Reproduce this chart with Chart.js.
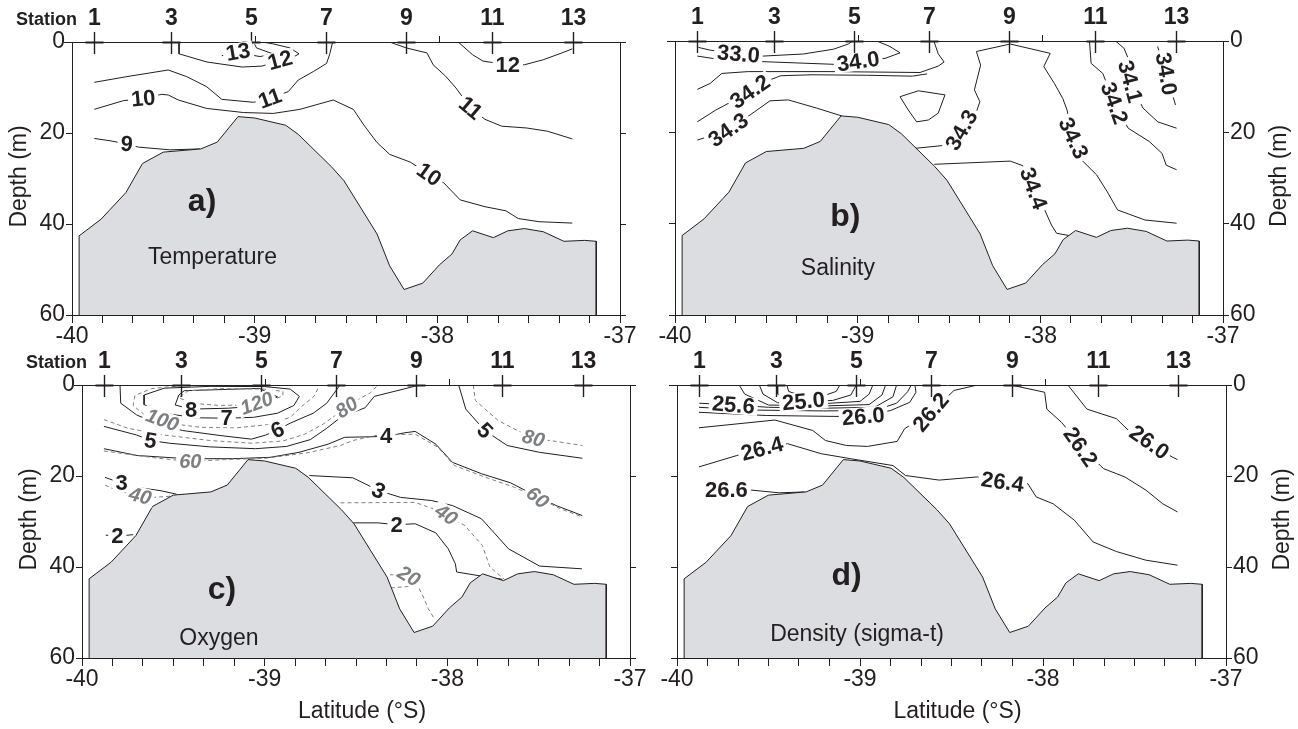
<!DOCTYPE html>
<html>
<head>
<meta charset="utf-8">
<script src="https://cdn.jsdelivr.net/npm/chart.js@4.4.1/dist/chart.umd.min.js"></script>
<style>
  body { margin: 0; background: #fff; width: 1298px; height: 729px; overflow: hidden; position: relative; }
  canvas { position: absolute; }
</style>
</head>
<body>
<canvas id="pa"></canvas>
<canvas id="pb"></canvas>
<canvas id="pc"></canvas>
<canvas id="pd"></canvas>
<script>
// ---- axes / stations ----
const latMajor = [-40, -39, -38, -37];
const depthTicks = [0, 20, 40, 60];
const stationNum = [1, 3, 5, 7, 9, 11, 13];
const stationLat = [-39.88, -39.46, -39.02, -38.61, -38.17, -37.70, -37.26];
const extraStationLat = [-39.0, -37.99];

// ---- bottom profile (latitude, depth m) ----
const bathyLat = [-39.961, -39.961, -39.841, -39.705, -39.614, -39.5, -39.295, -39.205, -39.091, -39.0, -38.83, -38.761, -38.58, -38.511, -38.33, -38.261, -38.182, -38.08, -37.989, -37.92, -37.875, -37.807, -37.693, -37.614, -37.523, -37.42, -37.307, -37.193, -37.13, -37.13];
const bathyDepth = [60, 42.6, 38.95, 33.1, 26.7, 24.2, 23.5, 22.0, 16.4, 16.7, 18.3, 20.3, 27.4, 30.5, 42.2, 49.2, 54.4, 53.0, 49.0, 46.6, 43.5, 41.5, 43.0, 41.5, 41.0, 41.7, 43.8, 43.6, 43.8, 60];

// ---- a) temperature contours [lat, depth] ----
const t13 = [[-39.18, 3.0], [-39.091, 2.4], [-38.97, 3.2], [-38.90, 2.6], [-38.99, 1.3], [-39.0, 0.5]];
const t12a = [[-39.414, 0], [-39.414, 2.6], [-39.261, 4.4], [-39.069, 5.5], [-38.96, 5.3], [-38.861, 4.0], [-38.779, 3.1], [-38.757, 2.6], [-38.807, 1.3], [-38.90, 0.4], [-38.96, 0]];
const t12b = [[-37.886, 0], [-37.807, 2.8], [-37.75, 4.2], [-37.614, 5.0], [-37.523, 5.0], [-37.42, 3.9], [-37.318, 2.4], [-37.261, 1.5]];
const t11a = [[-39.878, 8.86], [-39.701, 7.62], [-39.473, 6.15], [-39.372, 7.62], [-39.263, 9.82], [-39.18, 12.6], [-39.007, 13.25], [-38.916, 12.4], [-38.816, 10.9], [-38.761, 8.35], [-38.679, 6.5], [-38.606, 4.7], [-38.588, 2.5], [-38.573, 0]];
const t11b = [[-38.261, 0], [-38.17, 1.3], [-38.057, 2.4], [-38.023, 5.0], [-37.955, 7.5], [-37.898, 10.1], [-37.818, 14.5], [-37.739, 17.0], [-37.648, 18.5], [-37.511, 18.9], [-37.398, 19.6], [-37.261, 21.3]];
const t10 = [[-39.878, 14.8], [-39.719, 12.9], [-39.61, 12.4], [-39.509, 11.5], [-39.473, 11.65], [-39.418, 12.75], [-39.263, 14.6], [-39.062, 15.5], [-38.898, 15.7], [-38.752, 14.8], [-38.57, 12.75], [-38.46, 14.8], [-38.398, 18.5], [-38.33, 22.1], [-38.261, 24.7], [-38.148, 26.4], [-38.045, 29.1], [-37.966, 30.9], [-37.875, 34.7], [-37.739, 36.2], [-37.625, 37.1], [-37.557, 38.8], [-37.443, 39.5], [-37.261, 39.8]];
const t9 = [[-39.878, 21.2], [-39.792, 21.7], [-39.701, 22.4], [-39.637, 23.1], [-39.464, 23.7], [-39.299, 23.5]];
const tempLabels = [['13', -39.091, 2.2, -10], ['12', -38.861, 4.0, -15], ['12', -37.614, 5.0, 0], ['11', -38.916, 12.4, -20], ['11', -37.818, 14.5, 40], ['10', -39.61, 12.4, -5], ['10', -38.045, 29.1, 35], ['9', -39.701, 22.4, 5]];

// ---- b) salinity contours ----
const s330 = [[-39.872, 1.4], [-39.808, 2.0], [-39.653, 2.85], [-39.517, 3.3], [-39.298, 2.85], [-39.133, 1.8], [-39.051, 0.66], [-39.027, 0]];
const s340 = [[-39.878, 3.3], [-39.763, 4.0], [-39.535, 4.5], [-39.133, 5.1], [-38.997, 4.5], [-38.85, 3.8], [-38.768, 2.6], [-38.823, 1.2], [-38.896, 0]];
const s341 = [[-39.878, 10.6], [-39.808, 9.3], [-39.744, 7.1], [-39.599, 6.7], [-39.151, 6.7], [-38.659, 6.9], [-38.559, 5.5], [-38.527, 4.6], [-38.559, 2.8], [-38.583, 0]];
const s342 = [[-39.878, 17.7], [-39.78, 15.2], [-39.589, 11.1], [-39.50, 8.8], [-39.42, 7.6], [-39.25, 7.4], [-38.95, 7.5], [-38.70, 7.7], [-38.62, 7.2]];
const s343a = [[-39.878, 21.7], [-39.708, 19.5], [-39.589, 16.2], [-39.48, 13.1], [-39.38, 12.9], [-39.224, 14.7], [-39.088, 16.4]];
const sLoop = [[-38.768, 12.2], [-38.668, 10.9], [-38.522, 11.8], [-38.559, 15.8], [-38.613, 17.3], [-38.677, 17.7], [-38.723, 15.1], [-38.768, 12.2]];
const s343b = [[-38.685, 23.5], [-38.535, 22.9], [-38.431, 19.5], [-38.35, 15.5], [-38.331, 13.3], [-38.361, 10.7], [-38.327, 5.3], [-38.35, 2.3], [-38.165, 0.66], [-37.946, 2.7], [-37.981, 5.6], [-37.923, 9.3], [-37.877, 12.6], [-37.854, 15.1], [-37.819, 21.3], [-37.773, 26.1], [-37.692, 29.3], [-37.634, 33.0], [-37.577, 37.0], [-37.427, 39.2], [-37.254, 39.9]];
const s344 = [[-38.581, 27.0], [-38.165, 26.3], [-38.096, 27.3], [-38.038, 32.3], [-37.976, 37.0], [-37.939, 40.3], [-37.911, 42.1], [-37.842, 42.6]];
const s342b = [[-37.731, 0], [-37.722, 4.9], [-37.658, 7.1], [-37.595, 13.6], [-37.519, 19.1], [-37.404, 22.0], [-37.334, 24.6], [-37.311, 27.2], [-37.254, 28.2]];
const s341b = [[-37.588, 0], [-37.542, 1.6], [-37.519, 3.8], [-37.508, 8.9], [-37.438, 14.7], [-37.357, 17.7], [-37.254, 19.1]];
const s340b = [[-37.358, 1.2], [-37.311, 7.2], [-37.26, 14.0]];
const salLabels = [['33.0', -39.653, 2.85, 5], ['34.0', -38.997, 4.5, -8], ['34.2', -39.589, 11.1, -35], ['34.3', -39.708, 19.5, -35], ['34.3', -38.431, 19.5, -60], ['34.3', -37.819, 21.3, 65], ['34.4', -38.038, 32.3, 70], ['34.2', -37.595, 13.6, 70], ['34.1', -37.508, 8.9, 75], ['34.0', -37.311, 7.2, 80]];

// ---- c) oxygen: ml/L (solid) and % saturation (dashed) ----
const o8 = [[-39.403, 5.3], [-39.2, 5.1], [-39.03, 4.6], [-38.93, 2.6], [-39.03, 0.75], [-39.44, 1.25], [-39.47, 2.2], [-39.49, 4.4], [-39.403, 5.3]];
const o7 = [[-39.208, 7.3], [-39.06, 7.1], [-38.93, 6.2], [-38.84, 4.5], [-38.81, 2.5], [-38.86, 0.9], [-39.0, 0.35], [-39.3, 0.3], [-39.55, 0.7], [-39.66, 2.2], [-39.66, 4.3], [-39.55, 6.2], [-39.38, 7.2], [-39.208, 7.3]];
const o6 = [[-39.792, 0], [-39.788, 4.0], [-39.70, 6.6], [-39.60, 8.3], [-39.45, 10.0], [-39.244, 11.1], [-39.073, 11.9], [-38.994, 11.0], [-38.93, 9.9], [-38.861, 8.4], [-38.734, 6.2], [-38.66, 4.0], [-38.61, 1.25], [-38.588, 0]];
const o5a = [[-39.88, 9.1], [-39.70, 11.0], [-39.625, 12.2], [-39.52, 12.8], [-39.30, 13.6], [-39.05, 14.0], [-38.88, 13.5], [-38.75, 12.0], [-38.66, 9.5], [-38.58, 7.0], [-38.45, 5.0], [-38.40, 2.5], [-38.27, 1.2], [-38.18, 0.3], [-38.15, 0]];
const o5b = [[-37.938, 0], [-37.899, 5.3], [-37.795, 10.0], [-37.672, 13.3], [-37.495, 14.8], [-37.261, 16.1]];
const o4 = [[-39.88, 14.0], [-39.698, 15.5], [-39.425, 16.2], [-39.176, 16.2], [-38.971, 15.9], [-38.812, 14.8], [-38.653, 13.0], [-38.562, 11.5], [-38.335, 11.3], [-38.233, 10.5], [-38.176, 10.2], [-38.063, 13.0], [-37.972, 17.0], [-37.813, 19.5], [-37.654, 21.5], [-37.518, 24.3], [-37.404, 26.5], [-37.261, 28.7]];
const o3a = [[-39.874, 20.3], [-39.783, 21.6], [-39.737, 22.3], [-39.573, 23.2], [-39.482, 24.0]];
const o3b = [[-38.755, 19.9], [-38.517, 20.4], [-38.376, 23.2], [-38.256, 24.7], [-38.085, 25.4], [-37.972, 26.5], [-37.813, 29.4], [-37.665, 36.0], [-37.495, 39.8], [-37.263, 40.4]];
const o2a = [[-39.87, 33.0], [-39.807, 33.2], [-39.72, 32.9]];
const o2b = [[-38.517, 30.3], [-38.381, 30.3], [-38.278, 30.7], [-38.176, 30.5], [-38.063, 32.5], [-37.995, 36.0], [-37.956, 39.3], [-37.949, 41.1], [-37.813, 42.0], [-37.699, 42.7]];
const p120 = [[-39.044, 4.0], [-38.97, 3.4], [-38.90, 2.4], [-38.90, 1.4], [-39.0, 0.9], [-39.25, 0.8], [-39.42, 1.3], [-39.47, 2.8], [-39.40, 4.0], [-39.25, 4.5], [-39.12, 4.4], [-39.044, 4.0]];
const p100 = [[-39.45, 0.1], [-39.62, 0.8], [-39.71, 2.3], [-39.72, 4.5], [-39.66, 6.5], [-39.56, 7.7], [-39.47, 8.7], [-39.35, 9.3], [-39.15, 9.4], [-38.98, 8.7], [-38.86, 7.1], [-38.80, 4.8], [-38.73, 2.5], [-38.70, 0.1]];
const p80a = [[-39.88, 7.6], [-39.75, 9.5], [-39.55, 11.0], [-39.30, 12.2], [-39.07, 12.8], [-38.90, 12.3], [-38.78, 10.8], [-38.68, 8.6], [-38.551, 4.9], [-38.48, 3.0], [-38.42, 1.7], [-38.38, 0]];
const p80b = [[-37.858, 0], [-37.847, 3.4], [-37.722, 7.8], [-37.631, 9.7], [-37.529, 11.7], [-37.404, 12.4], [-37.261, 13.3]];
const p60 = [[-39.88, 14.5], [-39.584, 16.1], [-39.407, 16.8], [-39.221, 16.4], [-38.994, 16.1], [-38.767, 14.9], [-38.585, 13.3], [-38.517, 12.2], [-38.381, 11.0], [-38.176, 10.8], [-38.051, 13.7], [-37.961, 17.7], [-37.79, 20.3], [-37.631, 22.5], [-37.506, 24.7], [-37.381, 27.2], [-37.261, 29.0]];
const p40a = [[-39.874, 22.0], [-39.81, 23.2], [-39.682, 24.4], [-39.61, 24.7], [-39.50, 24.4]];
const p40b = [[-38.585, 25.9], [-38.176, 25.8], [-38.085, 27.1], [-38.006, 28.5], [-37.904, 30.9], [-37.808, 35.3], [-37.767, 40.0], [-37.688, 42.7]];
const p20 = [[-38.313, 41.7], [-38.21, 42.0], [-38.165, 43.9], [-38.131, 46.6], [-38.104, 49.2], [-38.074, 51.2]];
const p20b = [[-38.31, 44.6], [-38.22, 44.3], [-38.165, 43.9]];
const oxyLabels = [['8', -39.403, 5.4, 0], ['7', -39.208, 7.3, 0], ['6', -38.93, 9.9, -25], ['5', -39.625, 12.2, 10], ['5', -37.795, 10.0, 45], ['4', -38.335, 11.3, 0], ['3', -39.783, 21.6, 0], ['3', -38.376, 23.2, 25], ['2', -39.807, 33.2, 0], ['2', -38.278, 30.7, 0]];
const satLabels = [['120', -39.044, 4.0, -20], ['100', -39.56, 7.7, 20], ['80', -38.551, 4.9, -35], ['80', -37.529, 11.7, 15], ['60', -39.407, 16.8, 0], ['60', -37.506, 24.7, 40], ['40', -39.682, 24.4, 15], ['40', -38.006, 28.5, 35], ['20', -38.21, 42.0, 30]];

// ---- d) density contours ----
const d249 = [[-39.40, 0], [-39.39, 1.4], [-39.32, 2.4], [-39.2, 2.4], [-39.13, 1.4], [-39.11, 0]];
const d250 = [[-39.45, 0], [-39.45, 2.0], [-39.40, 3.2], [-39.309, 3.6], [-39.15, 3.4], [-39.05, 2.2], [-39.02, 0]];
const d252 = [[-39.55, 0], [-39.53, 2.0], [-39.45, 3.9], [-39.2, 4.1], [-39.0, 3.6], [-38.95, 2.0], [-38.93, 0]];
const d254 = [[-39.66, 0], [-39.63, 2.0], [-39.50, 4.4], [-39.2, 4.6], [-38.95, 4.3], [-38.88, 2.2], [-38.86, 0]];
const d256 = [[-39.878, 4.0], [-39.692, 4.4], [-39.50, 4.9], [-39.2, 5.1], [-38.92, 4.9], [-38.82, 2.6], [-38.80, 0]];
const d258 = [[-39.88, 4.9], [-39.75, 5.2], [-39.60, 5.5], [-39.2, 5.7], [-38.92, 5.6], [-38.80, 4.0], [-38.74, 1.5], [-38.72, 0]];
const d260 = [[-39.88, 6.0], [-39.512, 6.7], [-39.143, 6.9], [-38.982, 6.9], [-38.832, 5.6], [-38.728, 3.8], [-38.694, 1.6], [-38.70, 0]];
const d262 = [[-39.88, 9.4], [-39.465, 7.7], [-39.258, 10.0], [-39.189, 12.2], [-39.074, 13.3], [-38.959, 13.5], [-38.797, 12.4], [-38.756, 9.6], [-38.613, 6.0], [-38.486, 1.2], [-38.359, 0]];
const d264 = [[-39.88, 18.0], [-39.673, 15.5], [-39.535, 14.0], [-39.396, 12.9], [-39.212, 15.1], [-39.051, 16.2], [-38.82, 17.7], [-38.751, 19.9], [-38.567, 20.9], [-38.359, 20.2], [-38.221, 21.3], [-38.083, 21.7], [-38.037, 24.6], [-37.945, 26.1], [-37.829, 29.7], [-37.726, 34.5], [-37.599, 36.6], [-37.438, 38.5], [-37.265, 39.6]];
const d266 = [[-39.73, 23.0], [-39.592, 23.1], [-39.442, 23.7], [-39.304, 23.5]];
const d262b = [[-38.175, 0], [-37.991, 1.6], [-37.979, 5.3], [-37.899, 8.2], [-37.864, 9.9], [-37.795, 13.6], [-37.668, 18.4], [-37.553, 20.2], [-37.438, 23.1], [-37.346, 26.1], [-37.265, 27.9]];
const d260b = [[-37.864, 0], [-37.76, 5.3], [-37.599, 7.4], [-37.535, 9.9], [-37.419, 12.6], [-37.295, 15.8], [-37.265, 16.4]];
const denLabels = [['25.6', -39.692, 4.4, 5], ['25.0', -39.309, 3.6, -5], ['26.0', -38.982, 6.9, -5], ['26.2', -38.613, 6.0, -50], ['26.4', -39.535, 14.0, -15], ['26.4', -38.221, 21.3, 8], ['26.6', -39.73, 23.0, 0], ['26.2', -37.795, 13.6, 55], ['26.0', -37.419, 12.6, 35]];

// ---- drawing ----
const INK = '#231f20';
const GREY = '#7d7f82';
const FONT = '"Liberation Sans", Arial, Helvetica, sans-serif';
Chart.defaults.font.family = FONT;
Chart.defaults.color = INK;

const toXY = pts => pts.map(p => ({ x: p[0], y: p[1] }));

function latTickList() {
  const out = [];
  for (let i = 0; i <= (latMajor[latMajor.length - 1] - latMajor[0]) * 6; i++) out.push({ value: latMajor[0] + i / 6 });
  return out;
}

function textPlugin(cfg) {
  return {
    id: 'panelText',
    afterDraw(chart) {
      const ctx = chart.ctx, xs = chart.scales.x, ys = chart.scales.y, a = chart.chartArea;
      ctx.save();
      ctx.strokeStyle = INK;
      ctx.fillStyle = INK;
      // surface line
      ctx.lineWidth = 1;
      ctx.beginPath(); ctx.moveTo(a.left - 8, a.top + 0.5); ctx.lineTo(a.right, a.top + 0.5); ctx.stroke();
      // stations
      ctx.textAlign = 'center'; ctx.textBaseline = 'middle';
      ctx.font = 'bold 23px ' + FONT;
      stationLat.forEach((lat, i) => {
        const px = Math.round(xs.getPixelForValue(lat)) + 0.5;
        ctx.lineWidth = 1.4;
        ctx.beginPath(); ctx.moveTo(px, a.top - 10); ctx.lineTo(px, a.top + 12); ctx.stroke();
        ctx.lineWidth = 2;
        ctx.beginPath(); ctx.moveTo(px - 9, a.top + 0.5); ctx.lineTo(px + 9, a.top + 0.5); ctx.stroke();
        ctx.fillText(String(stationNum[i]), px, a.top - 23);
      });
      ctx.lineWidth = 1;
      extraStationLat.forEach(lat => {
        const px = Math.round(xs.getPixelForValue(lat)) + 0.5;
        ctx.beginPath(); ctx.moveTo(px, a.top - 6); ctx.lineTo(px, a.top); ctx.stroke();
      });
      if (cfg.stationWord) {
        ctx.font = 'bold 18px ' + FONT; ctx.textAlign = 'right';
        ctx.fillText('Station', a.left + 5, a.top - 22);
      }
      // contour labels
      const drawLabel = (lab, grey) => {
        const [t, lat, d, ang] = lab;
        const px = xs.getPixelForValue(lat), py = ys.getPixelForValue(d);
        ctx.save();
        ctx.translate(px, py); ctx.rotate(ang * Math.PI / 180);
        ctx.font = (grey ? 'italic bold 20px ' : 'bold 22px ') + FONT;
        const w = ctx.measureText(t).width;
        ctx.fillStyle = '#fff';
        ctx.fillRect(-w / 2 - 3, -9, w + 6, 18);
        ctx.fillStyle = grey ? GREY : INK;
        ctx.textAlign = 'center'; ctx.textBaseline = 'middle';
        ctx.fillText(t, 0, 1);
        ctx.restore();
      };
      cfg.labels.forEach(l => drawLabel(l, false));
      (cfg.greyLabels || []).forEach(l => drawLabel(l, true));
      // panel letter and name
      ctx.textAlign = 'center'; ctx.textBaseline = 'middle'; ctx.fillStyle = INK;
      ctx.font = 'bold 32px ' + FONT;
      ctx.fillText(cfg.letter, xs.getPixelForValue(cfg.letterAt[0]), ys.getPixelForValue(cfg.letterAt[1]));
      ctx.font = '23px ' + FONT;
      ctx.fillText(cfg.name, xs.getPixelForValue(cfg.nameAt[0]), ys.getPixelForValue(cfg.nameAt[1]));
      // axis titles
      const midY = (a.top + a.bottom) / 2 - 2;
      ctx.font = '23px ' + FONT;
      const depthTitle = (x) => {
        ctx.save(); ctx.translate(x, midY); ctx.rotate(-Math.PI / 2);
        ctx.fillText('Depth (m)', 0, 0); ctx.restore();
      };
      if (cfg.leftTitle) depthTitle(a.left - 52);
      if (cfg.rightTitle) depthTitle(a.right + 57);
      if (cfg.bottomTitle) ctx.fillText('Latitude (°S)', (a.left + a.right) / 2 + 6, a.bottom + 54);
      ctx.restore();
    }
  };
}

function buildPanel(id, box, cfg) {
  const cv = document.getElementById(id);
  cv.width = box.w + 144;
  cv.height = box.h + 112;
  cv.style.left = (box.x - 72) + 'px';
  cv.style.top = (box.y - 42) + 'px';
  const datasets = [{
    data: toXY(bathyLat.map((lat, i) => [lat, bathyDepth[i]])),
    showLine: true, fill: 'shape', backgroundColor: '#dcdde0',
    borderColor: INK, borderWidth: 1, pointRadius: 0, order: 0
  }];
  cfg.solid.forEach(l => datasets.push({
    data: toXY(l), showLine: true, fill: false, borderColor: INK, borderWidth: 1, pointRadius: 0, order: 2
  }));
  (cfg.dashed || []).forEach(l => datasets.push({
    data: toXY(l), showLine: true, fill: false, borderColor: GREY, borderWidth: 1, borderDash: [4, 3], pointRadius: 0, order: 1
  }));
  const yAxis = (pos, labels) => ({
    type: 'linear', position: pos, reverse: true, min: 0, max: 60,
    afterBuildTicks: s => { s.ticks = depthTicks.map(v => ({ value: v })); },
    afterFit: s => { s.width = 72; },
    grid: { drawOnChartArea: false, drawTicks: true, tickLength: 6, color: INK },
    border: { color: INK, width: 1 },
    ticks: { font: { size: 23 }, color: INK, padding: 1, callback: v => labels ? String(v) : '' }
  });
  new Chart(cv, {
    type: 'scatter',
    data: { datasets },
    options: {
      responsive: false, animation: false, devicePixelRatio: 1,
      layout: { padding: { top: 42, left: 0, right: 0, bottom: 0 } },
      plugins: { legend: { display: false }, tooltip: { enabled: false } },
      elements: { line: { tension: 0 } },
      scales: {
        x: {
          type: 'linear', position: 'bottom', min: latMajor[0], max: latMajor[latMajor.length - 1],
          afterBuildTicks: s => { s.ticks = latTickList(); },
          afterFit: s => { s.height = 70; },
          grid: { drawOnChartArea: false, drawTicks: true, tickLength: 8, color: INK },
          border: { color: INK, width: 1 },
          ticks: {
            autoSkip: false, maxRotation: 0, font: { size: 23 }, color: INK, padding: 0,
            callback: v => Math.abs(v - Math.round(v)) < 1e-6 ? String(Math.round(v)) : ''
          }
        },
        y: yAxis('left', cfg.leftLabels),
        y2: yAxis('right', cfg.rightLabels)
      }
    },
    plugins: [textPlugin(cfg)]
  });
}

buildPanel('pa', { x: 72, y: 42, w: 548, h: 273 }, {
  solid: [t13, t12a, t12b, t11a, t11b, t10, t9], labels: tempLabels,
  stationWord: true, leftLabels: true, rightLabels: false, leftTitle: true,
  letter: 'a)', letterAt: [-39.288, 35.1], name: 'Temperature', nameAt: [-39.231, 47.5]
});
buildPanel('pb', { x: 675, y: 41, w: 548, h: 274 }, {
  solid: [s330, s340, s341, s342, s343a, sLoop, s343b, s344, s342b, s341b, s340b], labels: salLabels,
  stationWord: false, leftLabels: false, rightLabels: true, rightTitle: true,
  letter: 'b)', letterAt: [-39.068, 38.5], name: 'Salinity', nameAt: [-39.108, 49.8]
});
buildPanel('pc', { x: 82, y: 385, w: 548, h: 273 }, {
  solid: [o8, o7, o6, o5a, o5b, o4, o3a, o3b, o2a, o2b], labels: oxyLabels,
  dashed: [p120, p100, p80a, p80b, p60, p40a, p40b, p20, p20b], greyLabels: satLabels,
  stationWord: true, leftLabels: true, rightLabels: false, leftTitle: true, bottomTitle: true,
  letter: 'c)', letterAt: [-39.234, 45.0], name: 'Oxygen', nameAt: [-39.25, 55.7]
});
buildPanel('pd', { x: 677, y: 385, w: 549, h: 273 }, {
  solid: [d249, d250, d252, d254, d256, d258, d260, d262, d264, d266, d262b, d260b], labels: denLabels,
  stationWord: false, leftLabels: false, rightLabels: true, rightTitle: true, bottomTitle: true,
  letter: 'd)', letterAt: [-39.073, 42.1], name: 'Density (sigma-t)', nameAt: [-39.016, 54.9]
});
</script>
</body>
</html>
